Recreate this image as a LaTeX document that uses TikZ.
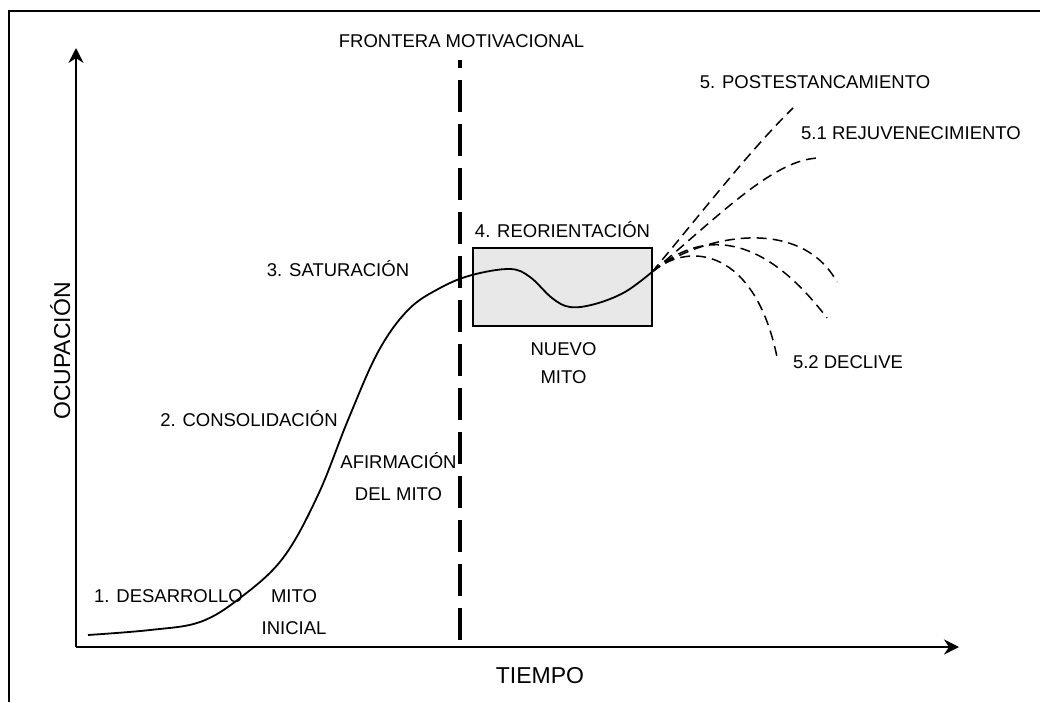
\documentclass[tikz,border=0pt]{standalone}
\usepackage{fontspec}
\setmainfont{Liberation Sans}
\usetikzlibrary{arrows.meta}
\definecolor{boxgray}{HTML}{E8E8E8}
\begin{document}
\begin{tikzpicture}[x=1pt,y=-1pt,
  lbl/.style={font=\fontsize{18.5}{22}\selectfont, inner sep=0pt, anchor=base},
  axislbl/.style={font=\fontsize{23}{27}\selectfont, inner sep=0pt, anchor=base},
  axisline/.style={line width=2pt, -{Stealth[length=15pt,width=15pt,inset=5pt]}},
  frameline/.style={line width=2pt},
  frontier/.style={line width=4pt, dash pattern=on 32pt off 12pt},
  growth/.style={line width=1.8pt},
  branch/.style={line width=1.5pt, dash pattern=on 10pt off 6pt},
  reorbox/.style={draw, line width=1.5pt, fill=boxgray, inner sep=0pt}]
\useasboundingbox (0,0) rectangle (1040,702);
% frame
\coordinate (fr1) at (9,702);
\coordinate (fr2) at (9,11);
\coordinate (fr3) at (1040,11);
\draw[frameline] (fr1) -- (fr2) -- (fr3);
% axes
\coordinate (O) at (76,647);
\coordinate (ytip) at (76,48);
\coordinate (xtip) at (959,647);
\draw[axisline] (O) -- (ytip);
\draw[axisline] (O) -- (xtip);
% reorientation box
\node[reorbox, minimum width=179pt, minimum height=78pt, anchor=north west] (box) at (472,247) {};
% growth curve
\coordinate (start) at (88,635);
\coordinate (J) at (652,272);
\draw[growth] plot[smooth, tension=0.6] coordinates {(start) (150,630) (200,622) (240,598) (283,558) (318,495) (348,420) (378,352) (408,310) (440,288) (472,275) (510,269) (530,277) (552,298) (570,307) (595,304) (625,292) (J)};
% frontier
\coordinate (fbot) at (460,640);
\coordinate (ftop) at (460,60);
\draw[frontier] (fbot) -- (ftop);
% branches
\coordinate (p5) at (793,108);
\coordinate (p51) at (820,158);
\coordinate (d1) at (837,282);
\coordinate (d2) at (827,318);
\coordinate (d3) at (777,357);
\draw[branch] (J) .. controls (700,215) and (750,150) .. (p5);
\draw[branch] (J) .. controls (720,215) and (775,158) .. (p51);
\draw[branch] (J) .. controls (700,235) and (800,215) .. (d1);
\draw[branch] (J) .. controls (700,230) and (760,230) .. (d2);
\draw[branch] (J) .. controls (690,240) and (755,250) .. (d3);
% labels
\node[lbl] (front) at (461.5,47) {FRONTERA MOTIVACIONAL};
\node[lbl] (post) at (815,88) {5. POSTESTANCAMIENTO};
\node[lbl] (rejuv) at (911,139) {5.1 REJUVENECIMIENTO};
\node[lbl] (decl) at (848,368) {5.2 DECLIVE};
\node[lbl] (reor) at (562.5,237) {4. REORIENTACIÓN};
\node[lbl] (nuevo) at (563.5,355) {NUEVO};
\node[lbl] (nmito) at (563.5,383) {MITO};
\node[lbl] (sat) at (338,276) {3. SATURACIÓN};
\node[lbl] (cons) at (249,426) {2. CONSOLIDACIÓN};
\node[lbl] (afirm) at (398.5,468) {AFIRMACIÓN};
\node[lbl] (delmito) at (398.5,500) {DEL MITO};
\node[lbl] (des) at (168.5,602) {1. DESARROLLO};
\node[lbl] (imito) at (294,602) {MITO};
\node[lbl] (inicial) at (294,634) {INICIAL};
\node[axislbl] (tiempo) at (540,683) {TIEMPO};
\node[axislbl, rotate=90] (ocup) at (70,351) {OCUPACIÓN};
\end{tikzpicture}
\end{document}
